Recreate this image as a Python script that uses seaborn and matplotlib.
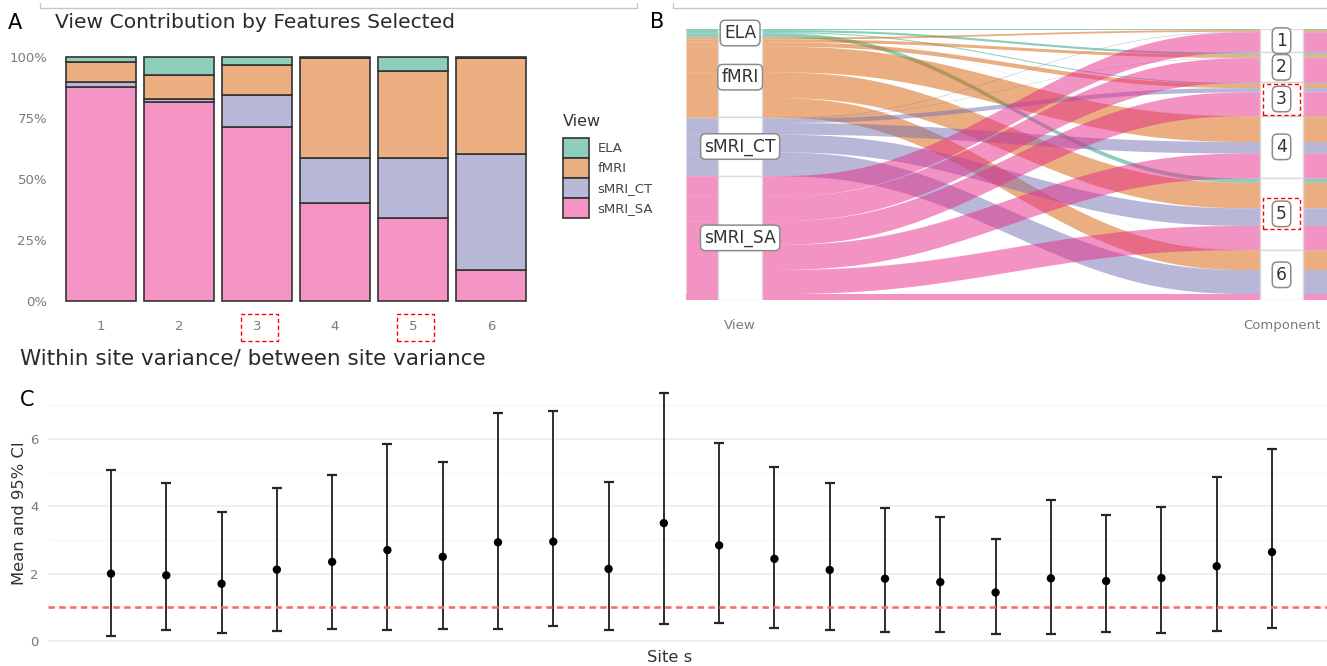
import numpy as np
import pandas as pd
import matplotlib
matplotlib.use('Agg')
import matplotlib.pyplot as plt
import seaborn as sns
from matplotlib.patches import Patch, Rectangle
from matplotlib.lines import Line2D

# features selected per view, for each component
views = ['ELA', 'fMRI', 'sMRI_CT', 'sMRI_SA']
components = [1, 2, 3, 4, 5, 6]
ela_counts = [3, 13, 6, 1, 24, 1]
fmri_counts = [11, 18, 25, 153, 153, 118]
ct_counts = [3, 2, 26, 69, 105, 143]
sa_counts = [121, 147, 141, 149, 144, 38]
highlight = [3, 5]

# within/between site variance ratio, per site
site_mean = [2.00, 1.95, 1.70, 2.12, 2.35, 2.70, 2.50, 2.93, 2.95, 2.14, 3.50,
             2.84, 2.44, 2.11, 1.85, 1.75, 1.44, 1.86, 1.78, 1.87, 2.22, 2.64]
site_lower = [0.15, 0.33, 0.23, 0.31, 0.35, 0.34, 0.36, 0.37, 0.44, 0.32, 0.50,
              0.54, 0.40, 0.33, 0.27, 0.27, 0.21, 0.21, 0.27, 0.25, 0.31, 0.39]
site_upper = [5.09, 4.68, 3.82, 4.55, 4.92, 5.84, 5.33, 6.76, 6.82, 4.71, 7.37,
              5.88, 5.18, 4.69, 3.96, 3.67, 3.02, 4.19, 3.73, 3.99, 4.88, 5.71]

W, H = 1327, 666
sns.set_theme(style='white')
plt.rcParams['font.family'] = ['DejaVu Sans']

fig = plt.figure(figsize=(W / 100, H / 100), dpi=100)


def px_axes(l, t, r, b):
    return fig.add_axes([l / W, 1 - b / H, (r - l) / W, (b - t) / H])


def fx(x):
    return x / W


def fy(y):
    return 1 - y / H


dark2 = sns.color_palette('Dark2', 4)
soft = [tuple(0.5 * c + 0.5 for c in col) for col in dark2]
grey = '#7a7a7a'
txt = '#2a2a2a'

df = pd.DataFrame({
    'View': np.repeat(views, len(components)),
    'Component': components * len(views),
    'n': ela_counts + fmri_counts + ct_counts + sa_counts,
})

# ---------------- A: stacked proportions ----------------
axA = px_axes(54, 45, 538, 313)
sns.histplot(data=df, x='Component', hue='View', weights='n', hue_order=views,
             multiple='fill', discrete=True, shrink=0.9, palette=soft, alpha=1,
             edgecolor='#333333', linewidth=1.2, legend=False, ax=axA)
axA.set_xlim(0.4, 6.6)
axA.set_ylim(-0.05, 1.05)
axA.set_yticks([0, 0.25, 0.5, 0.75, 1])
axA.set_yticklabels(['0%', '25%', '50%', '75%', '100%'])
axA.set_xticks(components)
axA.tick_params(length=0, labelsize=9.5, labelcolor=grey, pad=5)
axA.set_xlabel('')
axA.set_ylabel('')
sns.despine(ax=axA, left=True, bottom=True)
for k in highlight:
    axA.add_patch(Rectangle((k - 0.2, -0.105), 0.47, 0.1, fill=False, ec='red',
                            ls=(0, (3, 2)), lw=1, clip_on=False,
                            transform=axA.get_xaxis_transform()))

fig.text(fx(8), fy(23), 'A', fontsize=15, va='center', color='black')
fig.text(fx(55), fy(23), 'View Contribution by Features Selected', fontsize=14.6,
         va='center', color=txt)

fig.text(fx(563), fy(121), 'View', fontsize=11.5, va='center', color='#333333')
handles = [Patch(facecolor=c, edgecolor='#333333', linewidth=1.2) for c in soft]
fig.legend(handles, views, loc='upper left', bbox_to_anchor=(fx(563), fy(138)),
           frameon=False, fontsize=9.5, handlelength=1.95, handleheight=1.95,
           handletextpad=0.65, labelspacing=0, borderpad=0, borderaxespad=0,
           labelcolor='#444444')

# ---------------- B: alluvial ----------------
axB = px_axes(686, 29, 1327, 300)
counts = np.array([ela_counts, fmri_counts, ct_counts, sa_counts], float)
total = counts.sum()
view_tot = counts.sum(axis=1)
comp_tot = counts.sum(axis=0)
view_top = total - np.concatenate([[0], np.cumsum(view_tot)[:-1]])
comp_top = total - np.concatenate([[0], np.cumsum(comp_tot)[:-1]])

half = 0.04
xs = np.linspace(1 + half, 2 - half, 240)
t = (xs - xs[0]) / (xs[-1] - xs[0])
s = 6 * t ** 5 - 15 * t ** 4 + 10 * t ** 3
x_full = np.concatenate([[0.9], xs, [2.1]])

for v in range(len(views)):
    for c in range(len(components)):
        n = counts[v, c]
        if n <= 0:
            continue
        l_top = view_top[v] - counts[v, :c].sum()
        r_top = comp_top[c] - counts[:v, c].sum()
        top = np.concatenate([[l_top], l_top + (r_top - l_top) * s, [r_top]])
        axB.fill_between(x_full, top - n, top, color=dark2[v], alpha=0.5, lw=0)

for v, name in enumerate(views):
    axB.add_patch(Rectangle((1 - half, view_top[v] - view_tot[v]), 2 * half, view_tot[v],
                            fc='white', ec='#dadada', lw=1, zorder=3))
    axB.text(1, view_top[v] - view_tot[v] / 2, name, ha='center', va='center',
             fontsize=12.3, color='#333333', zorder=5,
             bbox=dict(boxstyle='round,pad=0.22,rounding_size=0.3', fc='white',
                       ec='#8c8c8c', lw=1.1))

py = total / 271.0
for c, comp in enumerate(components):
    mid = comp_top[c] - comp_tot[c] / 2
    axB.add_patch(Rectangle((2 - half, comp_top[c] - comp_tot[c]), 2 * half, comp_tot[c],
                            fc='white', ec='#dadada', lw=1, zorder=3))
    axB.text(2, mid, str(comp), ha='center', va='center', fontsize=12.3,
             color='#333333', zorder=5,
             bbox=dict(boxstyle='round,pad=0.22,rounding_size=0.3', fc='white',
                       ec='#8c8c8c', lw=1.1))
    if comp in highlight:
        axB.add_patch(Rectangle((2 - 0.034, mid - 15.5 * py), 0.068, 31 * py, fill=False,
                                ec='red', ls=(0, (3, 2)), lw=1, zorder=6))

axB.set_xlim(0.9, 2.084)
axB.set_ylim(0, total)
axB.set_xticks([1, 2])
axB.set_xticklabels(['View', 'Component'])
axB.set_yticks([])
axB.tick_params(length=0, labelsize=9.5, labelcolor=grey, pad=14)
sns.despine(ax=axB, left=True, bottom=True)
fig.text(fx(650), fy(22), 'B', fontsize=15, va='center', color='black')

# ---------------- C: site variance ----------------
axC = px_axes(48, 379, 1327, 648)
site = np.arange(1, len(site_mean) + 1)
dfC = pd.DataFrame({'site': site, 'mean': site_mean, 'lower': site_lower, 'upper': site_upper})
axC.errorbar(dfC['site'], dfC['mean'],
             yerr=[dfC['mean'] - dfC['lower'], dfC['upper'] - dfC['mean']],
             fmt='none', ecolor='#262626', elinewidth=1.35, capsize=3.8, capthick=1.6, zorder=2)
axC.axhline(1, color='#ff6a6a', lw=1.9, ls=(0, (2.4, 1.7)), zorder=2.5)
sns.scatterplot(data=dfC, x='site', y='mean', color='black', s=36, edgecolor='none',
                zorder=3, ax=axC)
axC.set_xlim(1 - 63 / 55.29, 22 + 55 / 55.29)
axC.set_ylim(-0.208, 7.78)
axC.set_yticks([0, 2, 4, 6])
axC.set_yticks([1, 3, 5, 7], minor=True)
axC.set_xticks([])
axC.set_axisbelow(True)
axC.grid(which='major', axis='y', color='#ebebeb', lw=1.1)
axC.grid(which='minor', axis='y', color='#f5f5f5', lw=0.8)
axC.tick_params(which='both', length=0, labelsize=9.5, labelcolor=grey, pad=6.5)
axC.set_xlabel('')
axC.set_ylabel('')
sns.despine(ax=axC, left=True, bottom=True)

fig.text(fx(20), fy(358), 'Within site variance/ between site variance', fontsize=15.5,
         va='center', color=txt)
fig.text(fx(20), fy(400), 'C', fontsize=15, va='center', color='black')
fig.text(fx(19.5), fy(513), 'Mean and 95% CI', fontsize=11.8, rotation=90,
         ha='center', va='center', color='#333333')
fig.text(fx(670), fy(658), 'Site s', fontsize=11.8, ha='center', va='center', color='#333333')

# borders left over from the panels above
for x0, x1 in [(40, 637), (673, 1327)]:
    fig.add_artist(Line2D([fx(x0), fx(x1)], [fy(7.5), fy(7.5)], color='#c8c8c8', lw=1))
    fig.add_artist(Line2D([fx(x0), fx(x0)], [fy(3), fy(7.5)], color='#c8c8c8', lw=1))
fig.add_artist(Line2D([fx(637), fx(637)], [fy(3), fy(7.5)], color='#c8c8c8', lw=1))

fig.savefig('out.png', dpi=100)
